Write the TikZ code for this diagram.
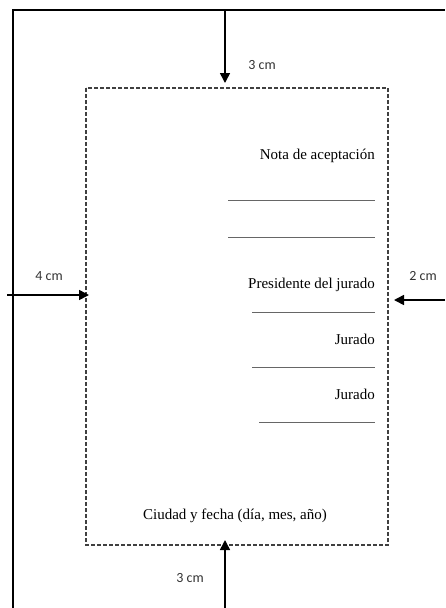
\documentclass[tikz,border=0pt]{standalone}
\usepackage{fontspec}
\setmainfont{Liberation Serif}
\setsansfont{Carlito}
\usetikzlibrary{arrows.meta}

\tikzset{
  hoja/.style={line width=1.6pt},
  margen/.style={line width=1.2pt, dash pattern=on 4pt off 2pt, draw=black!75},
  flecha/.style={line width=1.6pt, -{Triangle[length=10pt,width=10pt]}},
  medida/.style={font=\sffamily\fontsize{14}{16}\selectfont, text=black!80},
  texto/.style={font=\fontsize{15}{18}\selectfont, anchor=base east, inner sep=0pt},
  firma/.style={draw=black!60, line width=0.9pt},
}

\begin{document}
\begin{tikzpicture}[x=1pt,y=-1pt]
            \useasboundingbox (0,0) rectangle (445,608);

            % hoja
            \coordinate (H1) at (13,608);
            \coordinate (H2) at (13,10);
            \coordinate (H3) at (445,10);
            \draw[hoja] (H1) -- (H2) -- (H3);

            % margenes
            \coordinate (M1) at (86,88);
            \coordinate (M2) at (388,545);
            \draw[margen] (M1) rectangle (M2);

            % flechas
            \coordinate (S1) at (225,10);  \coordinate (S2) at (225,83);
            \coordinate (I1) at (225,608); \coordinate (I2) at (225,540);
            \coordinate (L1) at (7,295);   \coordinate (L2) at (89,295);
            \coordinate (R1) at (445,300); \coordinate (R2) at (394,300);
            \draw[flecha] (S1) -- (S2);
            \draw[flecha] (I1) -- (I2);
            \draw[flecha] (L1) -- (L2);
            \draw[flecha] (R1) -- (R2);

            \node[medida] (sup) at (262,65) {3 cm};
            \node[medida] (inf) at (190,578) {3 cm};
            \node[medida] (izq) at (49,276) {4 cm};
            \node[medida] (der) at (423,276) {2 cm};

            % textos
            \node[texto] (nota) at (375,159) {Nota de aceptación};
            \node[texto] (pres) at (375,288) {Presidente del jurado};
            \node[texto] (jur1) at (375,344) {Jurado};
            \node[texto] (jur2) at (375,399) {Jurado};
            \node[texto, anchor=base] (ciudad) at (235,519) {Ciudad y fecha (día, mes, año)};

            % lineas de firma
            \coordinate (F1a) at (228,200); \coordinate (F1b) at (375,200);
            \coordinate (F2a) at (228,237); \coordinate (F2b) at (375,237);
            \coordinate (F3a) at (252,312); \coordinate (F3b) at (375,312);
            \coordinate (F4a) at (252,367); \coordinate (F4b) at (375,367);
            \coordinate (F5a) at (259,422); \coordinate (F5b) at (375,422);
            \draw[firma] (F1a) -- (F1b);
            \draw[firma] (F2a) -- (F2b);
            \draw[firma] (F3a) -- (F3b);
            \draw[firma] (F4a) -- (F4b);
            \draw[firma] (F5a) -- (F5b);
        \end{tikzpicture}
\end{document}
